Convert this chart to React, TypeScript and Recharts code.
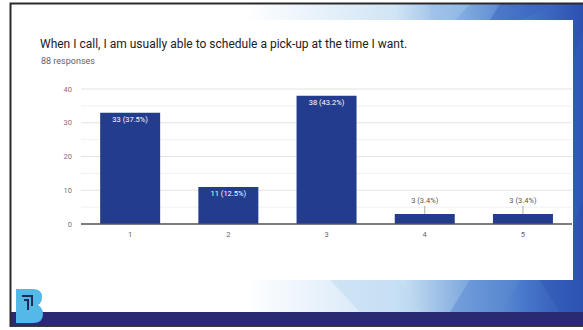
import React from "react";
import {
  BarChart,
  Bar,
  XAxis,
  YAxis,
  CartesianGrid,
  LabelList,
} from "recharts";

const categories = ["1", "2", "3", "4", "5"];
const responses = [33, 11, 38, 3, 3];
const yTicks = [0, 10, 20, 30, 40];
const minorTicks = [5, 15, 25, 35];
const title =
  "When I call, I am usually able to schedule a pick-up at the time I want.";
const subtitle = "88 responses";

const total = responses.reduce((a, b) => a + b, 0);
const data = categories.map((name, i) => ({ name, value: responses[i] }));

const BAR = "#233c8e";
const FONT = "Roboto, Arial, sans-serif";

// label inside the bar if there is room, else above with a short leader
const BarLabel = (props: any) => {
  const { x, y, width, height, value } = props;
  const pct = ((value / total) * 100).toFixed(1);
  const text = `${value} (${pct}%)`;
  const cx = x + width / 2;
  if (height > 18) {
    return (
      <text
        x={cx}
        y={y + 7}
        fill="#ffffff"
        fontSize={7.5}
        textAnchor="middle"
        dominantBaseline="central"
        fontFamily={FONT}
      >
        {text}
      </text>
    );
  }
  return (
    <g>
      <line x1={cx} x2={cx} y1={y - 8} y2={y} stroke="#9a9a9a" strokeWidth={0.8} />
      <text
        x={cx}
        y={y - 13}
        fill="#555"
        fontSize={7.5}
        textAnchor="middle"
        dominantBaseline="central"
        fontFamily={FONT}
      >
        {text}
      </text>
    </g>
  );
};

function Slide() {
  return (
    <svg width={583} height={330} style={{ position: "absolute", left: 0, top: 0 }}>
      <defs>
        <linearGradient id="bg" x1="0" y1="0" x2="583" y2="0" gradientUnits="userSpaceOnUse">
          <stop offset="0" stopColor="#ffffff" />
          <stop offset="0.42" stopColor="#ffffff" />
          <stop offset="0.68" stopColor="#cfe4f5" />
          <stop offset="0.8" stopColor="#7ea9de" />
          <stop offset="0.9" stopColor="#4677c9" />
          <stop offset="1" stopColor="#2c50b0" />
        </linearGradient>
      </defs>
      <rect x={0} y={0} width={583} height={330} fill="#ffffff" />
      <rect x={11} y={4} width={572} height={310} fill="url(#bg)" />
      {/* faceted shapes */}
      <polygon points="430,4 470,4 455,20 430,20" fill="#9cc2ea" opacity={0.6} />
      <polygon points="500,4 560,4 520,20 490,20" fill="#3c63bf" opacity={0.5} />
      <polygon points="573,60 583,30 583,200 573,230" fill="#2f5fc0" opacity={0.5} />
      <polygon points="330,280 400,280 420,312 360,312" fill="#bcd9f2" opacity={0.5} />
      <polygon points="470,280 520,280 500,312 450,312" fill="#5b8ad2" opacity={0.5} />
      <polygon points="540,280 583,280 583,312 560,312" fill="#2d55b5" opacity={0.5} />
      <rect x={12} y={20} width={561} height={260} fill="#ffffff" />
      <rect x={11} y={312} width={572} height={14} fill="#2a2a72" />
      <path d="M10.5,327 L10.5,3.5 L583,3.5" fill="none" stroke="#2a2a2a" strokeWidth={2} />
      <line x1={10} x2={583} y1={326.5} y2={326.5} stroke="#3a3a3a" strokeWidth={1} />
      {/* logo */}
      <path
        d="M16,289 L33,289 Q42,289 42,297 Q42,303 38,305 Q43,308 43,314 Q43,323 33,323 L16,323 Z"
        fill="#55b9e8"
      />
      <path d="M22,296 L32,296 L32,306 M24,300 L28,300 L28,310" fill="none" stroke="#1f2a55" strokeWidth={2} />
    </svg>
  );
}

export default function App() {
  return (
    <div
      style={{
        position: "fixed",
        left: 0,
        top: 0,
        width: 583,
        height: 330,
        overflow: "hidden",
        fontFamily: FONT,
      }}
    >
      <Slide />
      <div
        style={{
          position: "absolute",
          left: 40,
          top: 37,
          fontSize: 12,
          color: "#202124",
          whiteSpace: "nowrap",
        }}
      >
        {title}
      </div>
      <div
        style={{
          position: "absolute",
          left: 41,
          top: 56,
          fontSize: 9,
          color: "#5f6368",
          whiteSpace: "nowrap",
        }}
      >
        {subtitle}
      </div>
      <div style={{ position: "absolute", left: 0, top: 0 }}>
        <BarChart
          width={583}
          height={330}
          data={data}
          margin={{ top: 89, right: 11, bottom: 86, left: 51 }}
          barCategoryGap="19.5%"
        >
          <CartesianGrid
            vertical={false}
            stroke="#f0f0f0"
            horizontalValues={minorTicks}
          />
          <CartesianGrid vertical={false} stroke="#e3e3e3" />
          <XAxis
            dataKey="name"
            tickLine={false}
            tickSize={6}
            tickMargin={2}
            height={20}
            axisLine={{ stroke: "#555", strokeWidth: 1.3 }}
            tick={{ fontSize: 7.5, fill: "#666", fontFamily: FONT }}
          />
          <YAxis
            domain={[0, 40]}
            ticks={yTicks}
            width={30}
            axisLine={false}
            tickLine={false}
            tickSize={6}
            tickMargin={3}
            tick={{ fontSize: 7.5, fill: "#777", fontFamily: FONT }}
          />
          <Bar dataKey="value" fill={BAR} isAnimationActive={false}>
            <LabelList dataKey="value" content={BarLabel} />
          </Bar>
        </BarChart>
      </div>
    </div>
  );
}
